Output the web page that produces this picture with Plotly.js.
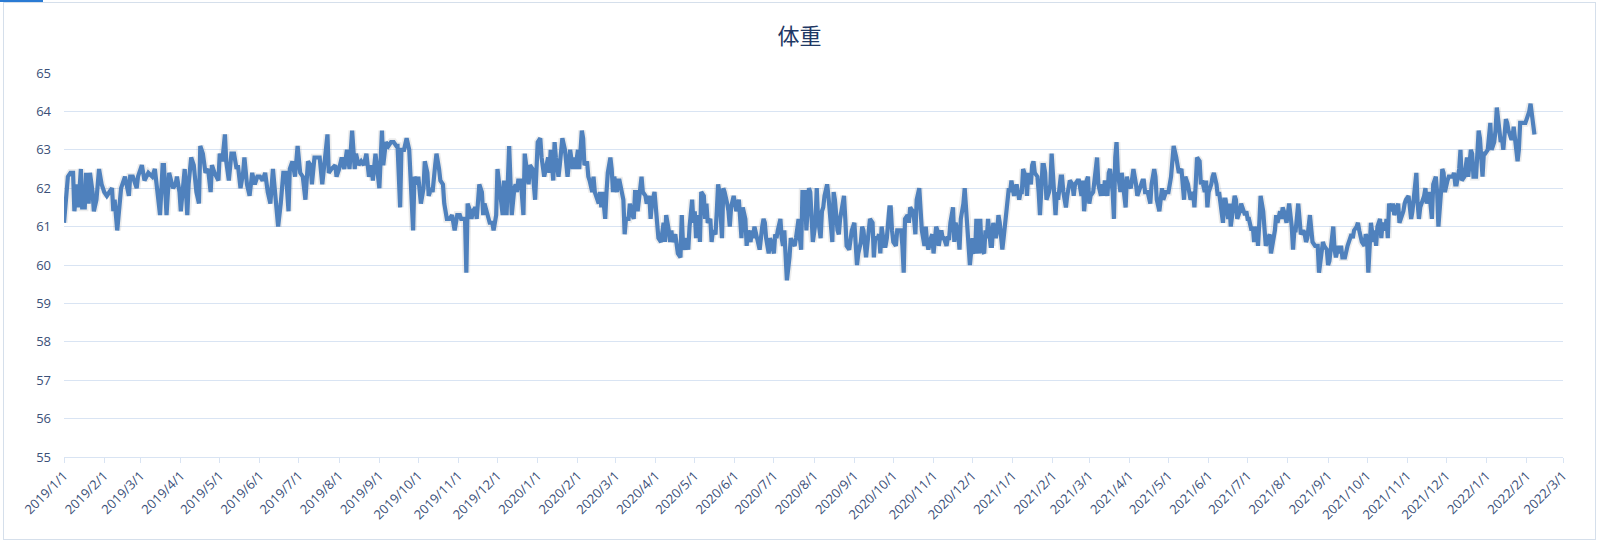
<!DOCTYPE html>
<html>
<head>
<meta charset="utf-8">
<script src="https://cdn.plot.ly/plotly-3.0.1.min.js"></script>
<style>
html,body{margin:0;padding:0;background:#fff;}
#wrap{position:relative;width:1599px;height:546px;}
#chart{position:absolute;left:0;top:0;width:1599px;height:546px;}
#frame{position:absolute;left:3px;top:2px;width:1591px;height:536px;border:1px solid #d5dfeb;pointer-events:none;}
#tab{position:absolute;left:0;top:0;width:43px;height:2px;background:#2a7bd4;}
</style>
</head>
<body>
<div id="wrap"><div id="chart"></div><div id="frame"></div><div id="tab"></div></div>
<script>
// days since 2019-01-01 and weight (kg)
const startDate = "2019-01-01";
const days = [
0,3,5,7,8,10,11,13,14,16,17,19,20,22,23,25,27,29,31,33,35,37,38,39,41,43,44,47,50,51,53,56,57,60,62,65,68,70,72,74,76,77,79,81,84,86,87,89,90,92,93,95,96,98,100,102,104,105,107,109,111,
113,114,116,119,120,122,124,125,127,129,131,133,134,136,138,139,141,143,145,147,149,151,153,155,157,159,161,163,165,167,169,171,173,174,176,178,180,182,184,186,188,190,191,193,195,197,199,201,203,204,206,209,210,212,214,216,218,220,222,224,
225,227,229,231,233,235,237,238,240,241,243,245,246,248,250,252,254,256,257,259,260,262,264,266,267,269,270,272,273,275,277,278,280,281,283,284,286,287,289,290,292,293,295,297,299,300,301,303,305,306,308,309,310,311,313,314,315,317,318,320,322,323,324,326,328,330,331,333,334,
336,338,339,340,341,343,344,345,347,348,349,350,352,354,355,356,358,359,361,363,364,365,367,368,370,372,373,374,375,377,378,379,381,382,384,386,387,388,390,392,393,394,396,397,399,400,401,403,404,405,407,408,409,410,412,413,414,415,417,418,419,421,422,423,424,426,427,428,430,431,432,433,435,436,437,439,440,441,442,444,445,446,
448,449,451,452,453,455,456,457,458,460,462,463,464,466,467,468,469,471,472,473,475,476,477,478,480,481,482,484,485,486,487,489,490,491,493,494,495,496,498,499,500,502,503,504,505,507,508,509,511,512,513,514,516,517,518,520,521,522,523,525,526,527,529,530,531,532,534,535,536,538,539,540,541,543,544,545,547,548,549,550,552,553,554,555,556,557,
559,560,561,563,564,566,567,568,569,571,572,574,575,576,577,579,580,581,583,584,585,586,588,589,591,592,593,594,596,597,598,600,601,602,603,605,606,607,609,610,611,612,614,615,616,618,619,620,621,623,624,625,627,628,629,630,632,633,634,636,637,638,639,641,642,643,645,646,647,648,650,651,652,654,655,656,657,659,660,661,663,664,665,666,668,669,670,
672,673,674,676,677,678,680,681,682,683,685,686,687,689,690,691,693,694,696,697,698,700,701,702,703,705,706,707,709,710,711,712,714,715,716,718,719,720,721,723,724,725,727,728,729,730,732,733,734,736,737,738,739,741,742,743,745,746,747,748,750,751,752,754,755,756,757,759,760,761,763,764,765,766,768,769,770,772,773,774,775,777,778,779,781,
782,784,785,786,788,789,790,791,793,794,795,796,797,799,800,801,802,804,805,806,808,809,810,811,812,814,815,816,818,819,820,822,823,824,826,827,828,829,831,832,833,835,836,837,838,840,841,842,844,845,846,847,849,850,851,853,854,855,857,858,859,861,862,863,864,866,867,868,870,871,872,873,875,876,877,879,880,881,882,884,885,886,888,889,890,891,893,894,
895,897,898,899,901,902,903,904,906,907,908,910,911,912,913,915,916,917,919,920,921,922,924,925,926,928,929,930,932,933,934,935,937,938,939,940,942,943,944,946,947,948,949,951,952,953,955,956,957,958,960,961,962,964,965,966,967,969,970,971,973,974,975,976,978,979,980,982,983,984,985,987,988,989,991,992,993,994,996,997,998,999,1000,1002,1003,1004,1005,
1007,1009,1010,1011,1012,1014,1015,1016,1018,1019,1020,1021,1023,1024,1025,1027,1028,1029,1030,1032,1033,1034,1036,1037,1038,1039,1042,1043,1044,1045,1046,1048,1049,1050,1052,1053,1054,1055,1057,1058,1059,1061,1062,1063,1064,1066,1067,1068,1070,1071,1072,1073,1075,1076,1077,1079,1080,1081,1082,1084,1085,1086,1088,1089,1090,1091,1093,1094,1095,1097,1098,1099,1100,1102,1103,1104,1106,1107,1108,1109,1111,1112,1113,1115,1116,1117,1118,1120,1121,1122,1124,1125,1126,1127,1129,1130,1131,1132,1133
];
const weights = [
61.1,62.3,62.4,62.4,61.4,62.1,61.5,62.5,61.5,61.5,62.4,61.6,62.4,61.9,61.4,61.7,62.5,62.1,61.9,61.8,61.9,62.0,61.4,61.7,60.9,61.9,62.0,62.3,61.8,62.3,62.3,62.0,62.3,62.6,62.2,62.4,62.3,62.5,61.9,61.3,62.6,62.6,61.3,62.4,62.0,62.1,62.3,61.9,61.4,62.0,62.5,61.3,62.1,62.8,62.6,61.9,61.6,63.1,62.9,62.4,62.5,
61.9,62.6,62.4,62.2,62.9,62.7,63.4,62.7,62.2,62.9,62.9,62.5,62.6,62.0,62.4,62.8,62.1,61.8,62.4,62.1,62.3,62.3,62.2,62.4,61.9,61.6,62.5,61.7,61.0,61.6,62.4,62.4,61.4,62.5,62.7,62.3,63.1,62.4,62.3,61.7,62.7,62.6,62.1,62.8,62.8,62.8,62.1,62.7,63.4,62.4,62.5,62.6,62.3,62.5,62.8,62.5,63.0,62.5,63.5,62.5,
62.9,62.6,62.7,62.6,62.9,62.3,62.6,62.2,62.9,62.6,62.0,63.5,62.6,63.2,63.1,63.2,63.2,63.1,63.1,61.5,63.0,63.0,63.3,63.0,62.2,60.9,62.3,62.1,62.3,61.6,62.0,62.7,62.4,61.8,62.0,61.9,62.6,62.9,62.5,62.2,62.1,61.6,61.2,61.2,61.3,61.1,60.9,61.3,61.3,61.2,61.2,61.2,59.8,61.6,61.4,61.2,61.4,61.5,61.2,62.1,61.9,61.3,61.6,61.3,61.1,61.1,60.9,61.3,62.5,
61.9,61.3,62.2,61.8,61.3,63.1,61.8,61.3,62.0,62.1,61.9,62.2,62.2,61.3,62.9,62.6,62.1,62.6,62.5,61.7,62.4,63.2,63.3,62.8,62.3,62.7,62.8,62.4,63.0,62.2,63.2,62.8,62.3,62.6,63.3,63.0,62.6,62.3,63.0,62.5,62.8,62.5,63.0,62.5,63.5,63.3,62.6,62.7,62.3,62.2,61.9,62.3,61.9,61.8,61.6,61.9,61.5,61.9,61.2,61.9,62.4,62.8,62.5,61.9,62.3,61.9,62.2,62.2,61.8,61.7,60.8,61.2,61.2,61.6,61.4,61.2,61.9,61.9,61.4,62.2,62.3,61.9,
61.8,61.6,61.8,61.2,61.6,61.9,61.4,61.2,60.7,60.6,61.1,60.6,61.3,60.9,60.6,60.9,60.6,60.8,60.5,60.3,60.2,61.3,60.5,60.4,60.7,60.4,61.0,61.7,61.1,61.4,60.7,61.3,60.6,61.9,61.8,61.2,61.6,61.1,61.2,60.6,60.9,60.8,61.4,62.1,61.9,60.7,62.0,61.9,61.6,61.4,61.0,61.5,61.8,61.6,61.4,61.7,61.1,60.7,61.5,61.2,60.5,60.9,60.6,60.9,60.7,61.0,60.7,60.5,60.4,61.0,61.2,61.1,60.7,60.3,60.7,60.6,60.3,60.8,60.7,60.9,61.2,60.7,60.5,60.9,60.2,59.6,
60.2,60.7,60.6,60.5,60.7,61.2,60.7,60.4,61.9,61.9,60.9,62.0,61.9,60.9,60.6,61.1,62.0,61.2,60.7,61.4,61.5,61.8,62.1,61.8,61.1,60.6,61.9,61.7,60.9,60.8,61.2,61.7,61.8,61.2,60.5,60.4,60.6,60.9,61.1,60.5,60.0,60.3,60.6,61.0,60.9,60.2,60.5,60.9,61.2,61.1,60.2,60.7,60.7,60.8,60.3,61.0,60.5,60.5,60.7,61.5,61.5,60.9,60.6,60.5,60.9,60.9,60.9,60.5,59.8,61.2,61.3,61.1,61.5,61.4,61.2,60.8,61.7,62.0,61.2,60.9,60.5,61.0,60.6,60.4,60.7,60.8,60.3,
61.0,60.9,60.5,60.9,60.7,60.7,60.5,60.7,60.7,61.1,61.5,60.6,61.1,60.8,60.4,61.2,61.6,62.0,61.2,60.5,60.0,60.7,60.4,60.3,61.2,60.3,61.2,60.4,60.3,60.9,60.7,61.2,60.5,60.5,61.1,60.7,60.9,61.3,61.1,60.4,60.7,61.1,61.9,62.0,61.9,62.2,61.8,62.0,62.1,61.7,61.9,61.9,62.5,62.3,61.8,62.4,62.1,62.6,62.7,62.4,62.3,61.9,61.3,62.6,62.6,62.4,61.7,61.9,62.1,62.9,61.8,61.3,61.9,61.7,62.3,62.3,61.9,61.5,61.8,62.1,62.2,62.1,61.8,62.1,62.2,
62.2,61.8,62.2,61.4,62.2,62.3,61.6,61.8,61.9,62.2,62.6,62.8,62.1,61.8,62.1,61.8,62.2,61.8,62.4,62.5,61.9,61.2,62.8,63.2,62.4,61.9,62.4,62.1,61.5,62.3,62.1,62.0,62.4,62.5,62.1,61.8,61.9,62.0,62.2,62.2,61.9,61.9,61.7,61.6,62.1,62.5,62.3,61.7,61.4,61.8,62.0,61.7,61.9,61.9,61.9,62.3,62.8,63.1,62.8,62.5,62.4,62.5,62.2,61.7,62.3,62.1,61.9,61.7,61.9,61.5,62.1,62.8,62.7,62.1,62.2,61.9,62.2,61.5,61.9,62.1,62.3,62.4,62.1,61.8,61.9,61.6,61.1,61.7,
61.7,61.2,61.6,61.0,61.5,61.8,61.7,61.2,61.4,61.6,61.5,61.3,61.4,61.2,61.2,60.9,61.0,60.6,61.0,60.5,61.1,61.8,61.4,60.7,60.5,60.7,60.8,60.3,60.7,60.9,61.3,61.1,61.4,61.2,61.5,61.4,61.1,61.5,61.6,61.0,60.4,60.9,60.9,61.6,61.2,60.8,60.9,60.8,60.6,60.7,61.3,60.8,60.6,60.5,60.5,60.5,59.8,60.4,60.6,60.5,60.4,60.0,60.1,60.4,61.0,60.4,60.2,60.5,60.3,60.5,60.2,60.2,60.4,60.5,60.7,60.8,60.7,60.9,61.0,61.1,60.9,60.7,60.6,60.5,60.8,60.7,59.8,
61.1,60.6,60.9,60.5,61.0,61.2,60.7,61.1,60.9,61.2,60.7,61.6,61.4,61.6,61.3,61.5,61.6,61.1,61.2,61.4,61.6,61.7,61.8,61.3,61.2,61.4,62.4,61.6,61.2,61.5,61.6,61.8,62.0,61.6,61.9,61.6,61.2,62.1,62.3,61.9,61.0,61.9,62.5,62.4,61.9,62.2,62.3,62.3,62.3,62.4,62.1,62.1,62.5,63.0,62.2,62.3,62.5,62.8,62.3,63.0,62.9,62.3,62.3,62.8,63.5,63.3,62.3,62.9,62.9,63.0,63.3,63.7,63.0,63.2,63.5,64.1,63.5,63.2,63.3,63.0,63.8,63.7,63.5,63.3,63.3,63.6,63.3,62.7,63.0,63.7,63.7,63.7,63.7,63.8,64.0,64.2,63.9,63.6,63.4
];
const yTicks = [55,56,57,58,59,60,61,62,63,64,65];

const base = Date.UTC(2019,0,1);
function toDate(d){
  const t = new Date(base + d*86400000);
  return t.getUTCFullYear()+"-"+String(t.getUTCMonth()+1).padStart(2,"0")+"-"+String(t.getUTCDate()).padStart(2,"0");
}
const dates = days.map(toDate);

const tickColor = "#3b5078";
const gridColor = "#d9e4f3";

const shadow = {
  x: dates, y: weights, type: "scatter", mode: "lines",
  line: {color: "rgba(70,70,70,0.10)", width: 7.5},
  hoverinfo: "skip"
};
const trace = {
  x: dates, y: weights, type: "scatter", mode: "lines",
  line: {color: "#4f81bd", width: 4.2},
  hoverinfo: "x+y"
};

const layout = {
  width: 1599, height: 546,
  paper_bgcolor: "rgba(0,0,0,0)", plot_bgcolor: "#ffffff",
  margin: {l: 64, r: 36, t: 73, b: 89},
  showlegend: false,
  title: {
    text: "体重",
    font: {family: "'Noto Sans CJK SC', 'Noto Sans', sans-serif", size: 22, color: "#1f3864"},
    x: 0.5, xref: "container", xanchor: "center",
    y: 1 - 36/546, yref: "container", yanchor: "middle"
  },
  xaxis: {
    type: "date",
    range: ["2019-01-01", "2022-03-01"],
    tick0: "2019-01-01", dtick: "M1",
    tickformat: "%Y/%-m/%-d",
    tickangle: -45,
    ticks: "outside", ticklen: 5, tickwidth: 1, tickcolor: gridColor,
    showline: true, linecolor: gridColor, linewidth: 1,
    showgrid: false, zeroline: false,
    tickfont: {family: "'Open Sans', 'Noto Sans', sans-serif", size: 13, color: tickColor},
    fixedrange: true
  },
  yaxis: {
    range: [55, 65],
    tickvals: yTicks,
    ticktext: yTicks.map(String),
    showgrid: true, gridcolor: gridColor, gridwidth: 1,
    zeroline: false, showline: false, ticks: "",
    ticklabelstandoff: 12,
    tickfont: {family: "'Open Sans', 'Noto Sans', sans-serif", size: 13, color: tickColor},
    fixedrange: true
  }
};

Plotly.newPlot("chart", [shadow, trace], layout, {displayModeBar: false, staticPlot: true});
</script>
</body>
</html>
